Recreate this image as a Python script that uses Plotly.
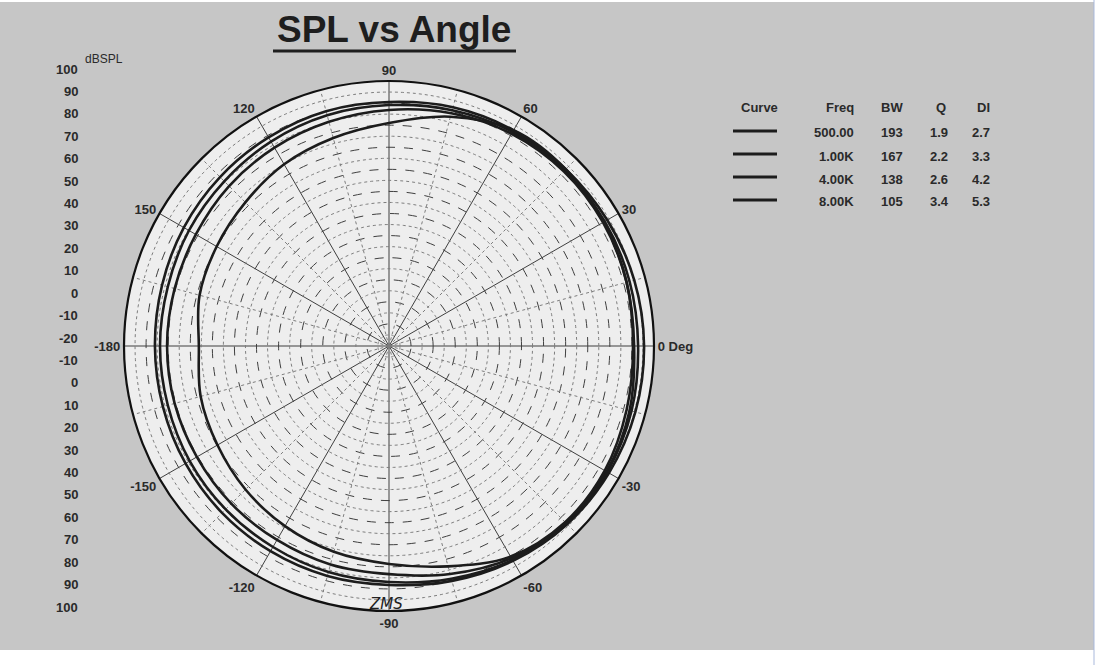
import plotly.graph_objects as go
import numpy as np

# ---------------- data ----------------
angles = [0, 15, 30, 45, 60, 75, 90, 105, 120, 135, 150, 165, 180,
          195, 210, 225, 240, 255, 270, 285, 300, 315, 330, 345, 360]

spl_500 = [95.5, 95.0, 94.1, 93.2, 92.8, 91.9, 90.5, 90.1, 89.1, 88.2, 87.3, 86.4, 86.0,
           86.0, 86.4, 86.9, 87.3, 87.8, 88.2, 90.1, 92.3, 94.1, 95.0, 95.5, 95.5]
spl_1k = [92.8, 92.8, 92.8, 92.3, 91.9, 90.5, 89.1, 88.2, 86.9, 85.5, 84.6, 83.7, 83.7,
          83.7, 84.2, 84.6, 85.1, 86.0, 86.9, 89.1, 91.9, 93.7, 94.1, 93.7, 92.8]
spl_4k = [91.0, 91.4, 91.9, 91.9, 91.0, 89.1, 86.9, 85.1, 83.7, 82.4, 81.0, 80.5, 80.5,
          80.5, 80.5, 81.0, 81.4, 82.4, 83.3, 86.9, 91.0, 93.2, 93.7, 92.8, 91.0]
spl_8k = [90.5, 91.4, 92.3, 93.2, 92.8, 87.5, 81.0, 77.5, 75.0, 72.0, 70.1, 68.8, 66.1,
          68.3, 69.7, 71.9, 74.2, 76.5, 78.7, 83.3, 90.1, 92.8, 92.8, 91.4, 90.5]

freq_labels = ["500.00", "1.00K", "4.00K", "8.00K"]
bw_values = ["193", "167", "138", "105"]
q_values = ["1.9", "2.2", "2.6", "3.4"]
di_values = ["2.7", "3.3", "4.2", "5.3"]
table_headers = ["Curve", "Freq", "BW", "Q", "DI"]

angle_tick_vals = [0, 30, 60, 90, 120, 150, 180, 210, 240, 270, 300, 330]
angle_tick_text = ["0 Deg", "30", "60", "90", "120", "150", "-180", "-150",
                   "-120", "-90", "-60", "-30"]

dbspl_tick_labels = [100, 90, 80, 70, 60, 50, 40, 30, 20, 10, 0, -10, -20,
                     -10, 0, 10, 20, 30, 40, 50, 60, 70, 80, 90, 100]

radial_range = [-20, 100]

# ---------------- layout helpers ----------------
W, H = 1107, 665


def fx(x):
    return x / W


def fy(y):
    return 1 - y / H


INK = "#1c1c1c"
NARROW = "Liberation Sans Narrow, Liberation Sans, Arial, sans-serif"

fig = go.Figure()

# minor dotted circles (grid)
for v in np.arange(radial_range[0] + 5, radial_range[1], 10):
    th = np.linspace(0, 360, 361)
    fig.add_trace(go.Scatterpolar(r=np.full_like(th, v), theta=th, mode="lines",
                                  line=dict(color="#7d7d7d", width=1, dash="dot"),
                                  hoverinfo="skip", showlegend=False))
# minor dotted spokes (grid)
for a in np.arange(15, 360, 30):
    fig.add_trace(go.Scatterpolar(r=radial_range, theta=[a, a], mode="lines",
                                  line=dict(color="#7d7d7d", width=1, dash="dot"),
                                  hoverinfo="skip", showlegend=False))

# response curves
for name, vals in zip(freq_labels, [spl_500, spl_1k, spl_4k, spl_8k]):
    fig.add_trace(go.Scatterpolar(r=vals, theta=angles, mode="lines", name=name,
                                  line=dict(color=INK, width=2.6, shape="spline", smoothing=1.0),
                                  showlegend=False))

annotations = []
shapes = []

# scanned page background
shapes.append(dict(type="rect", xref="paper", yref="paper", x0=0, x1=fx(1094), y0=fy(650), y1=fy(2),
                   fillcolor="#c6c6c6", line=dict(width=0), layer="below"))
shapes.append(dict(type="line", xref="paper", yref="paper", x0=fx(1094), x1=fx(1094), y0=0, y1=1,
                   line=dict(color="#a9b9dc", width=1), layer="below"))

# title
annotations.append(dict(text="<b>SPL vs Angle</b>", x=fx(394), y=fy(29), xref="paper", yref="paper",
                        showarrow=False, xanchor="center", yanchor="middle",
                        font=dict(family="Liberation Sans, Arial, sans-serif", size=37, color="#1e1e1e")))
shapes.append(dict(type="line", xref="paper", yref="paper", x0=fx(273), x1=fx(516), y0=fy(51), y1=fy(51),
                   line=dict(color="#1e1e1e", width=3)))

# left dBSPL scale
annotations.append(dict(text="dBSPL", x=fx(83), y=fy(59), xref="paper", yref="paper", showarrow=False,
                        xanchor="left", yanchor="middle",
                        font=dict(family="Liberation Sans, Arial, sans-serif", size=12, color="#2a2a2a")))
n = len(dbspl_tick_labels)
for i, lab in enumerate(dbspl_tick_labels):
    y = 69 + i * (607 - 69) / (n - 1)
    annotations.append(dict(text=f"<b>{lab}</b>", x=fx(80), y=fy(y), xref="paper", yref="paper",
                            showarrow=False, xanchor="right", yanchor="middle",
                            font=dict(family=NARROW, size=13, color="#2a2a2a")))

# table legend
header_x = [(759, "center"), (856, "right"), (892, "center"), (941, "center"), (983, "center")]
for (x, anc), h in zip(header_x, table_headers):
    annotations.append(dict(text=f"<b>{h}</b>", x=fx(x), y=fy(107), xref="paper", yref="paper",
                            showarrow=False, xanchor=anc, yanchor="middle",
                            font=dict(family=NARROW, size=13, color="#2a2a2a")))
row_y = [133, 156, 179, 202]
for i, ry in enumerate(row_y):
    shapes.append(dict(type="line", xref="paper", yref="paper", x0=fx(733), x1=fx(777),
                       y0=fy(ry - 2), y1=fy(ry - 2), line=dict(color=INK, width=3)))
    cols = [(856, "right", freq_labels[i]), (892, "center", bw_values[i]),
            (939, "center", q_values[i]), (981, "center", di_values[i])]
    for x, anc, txt in cols:
        annotations.append(dict(text=f"<b>{txt}</b>", x=fx(x), y=fy(ry), xref="paper", yref="paper",
                                showarrow=False, xanchor=anc, yanchor="middle",
                                font=dict(family=NARROW, size=13, color="#2a2a2a")))

# handwritten note
annotations.append(dict(text="<i>ZMS</i>", x=fx(386), y=fy(604), xref="paper", yref="paper",
                        showarrow=False, xanchor="center", yanchor="middle",
                        font=dict(family="DejaVu Sans, sans-serif", size=15, color="#222222")))

fig.update_layout(
    width=W, height=H,
    margin=dict(l=0, r=0, t=0, b=0),
    paper_bgcolor="#ffffff",
    showlegend=False,
    annotations=annotations,
    shapes=shapes,
    polar=dict(
        domain=dict(x=[fx(124), fx(654)], y=[fy(611), fy(81)]),
        bgcolor="#eeeeee",
        radialaxis=dict(range=radial_range, dtick=10, tick0=0, showticklabels=False, ticks="",
                        showline=False, gridcolor="#3f3f3f", gridwidth=1, griddash="dash"),
        angularaxis=dict(direction="counterclockwise", rotation=0,
                         tickmode="array", tickvals=angle_tick_vals,
                         ticktext=[f"<b>{t}</b>" for t in angle_tick_text],
                         ticks="", showline=True, linecolor="#111111", linewidth=2.2,
                         gridcolor="#3f3f3f", gridwidth=1,
                         tickfont=dict(family=NARROW, size=13, color="#2a2a2a")),
    ),
)

fig.write_html("out.html", config={"displayModeBar": False},
               post_script="document.body.style.margin='0';document.body.style.padding='0';")
